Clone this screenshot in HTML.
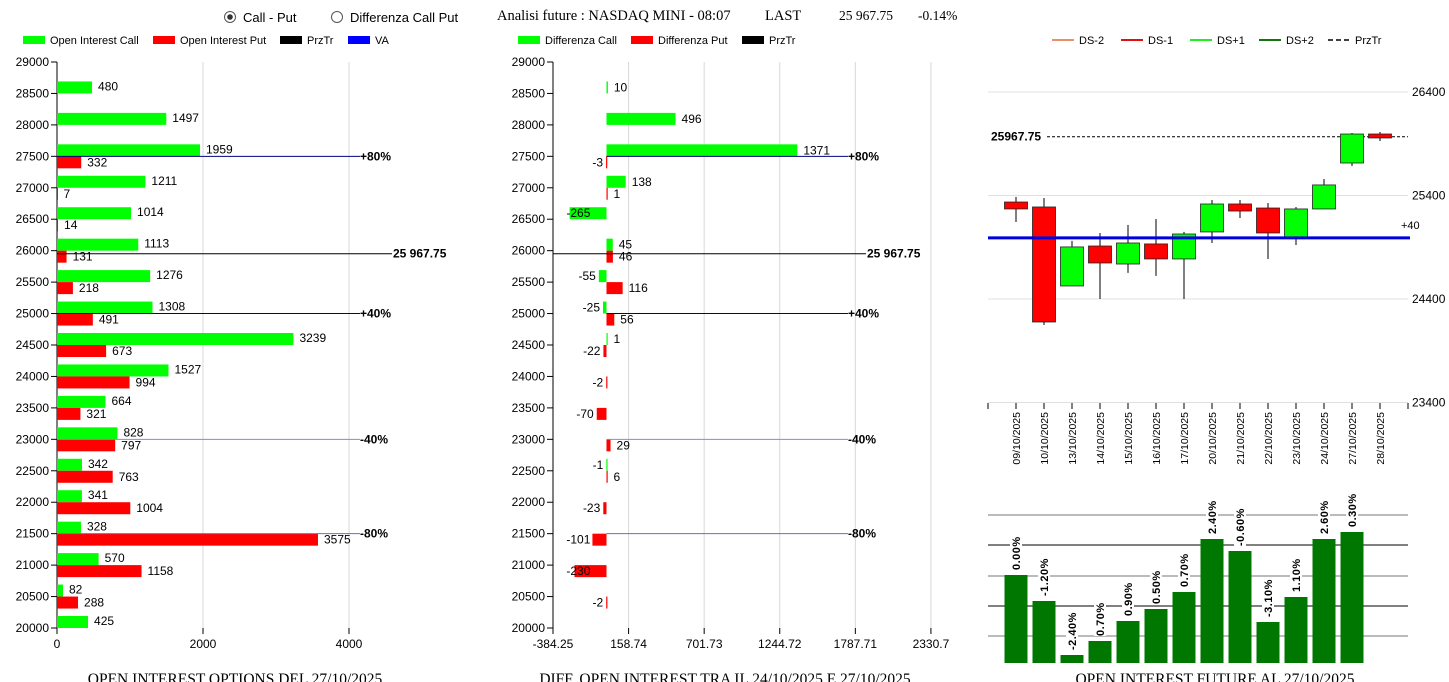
<!DOCTYPE html>
<html><head><meta charset="utf-8">
<style>
html,body{margin:0;padding:0;background:#fff;}
svg{display:block;font-family:"Liberation Sans",sans-serif;}
.serif{font-family:"Liberation Serif",serif;}
</style></head>
<body>
<svg id="root" width="1449" height="682" viewBox="0 0 1449 682" xmlns="http://www.w3.org/2000/svg">
  <g>
    <circle cx="230" cy="17" r="5.5" fill="#fff" stroke="#555"/><circle cx="230" cy="17" r="2.8" fill="#333"/>
    <text x="243" y="22" font-size="13">Call - Put</text>
  </g>
  <g>
    <circle cx="337" cy="17" r="5.5" fill="#fff" stroke="#555"/>
    <text x="350" y="22" font-size="13">Differenza Call Put</text>
  </g>
  <g class="serif" font-size="14.5">
    <text x="497" y="20">Analisi future : NASDAQ MINI - 08:07</text>
    <text x="765" y="20">LAST</text>
    <text x="839" y="20" font-size="13.5">25 967.75</text>
    <text x="918" y="20" font-size="13.5">-0.14%</text>
  </g>
  <g font-size="11">
    <rect x="23" y="36" width="22" height="8" fill="#00ff00"/><text x="50" y="44">Open Interest Call</text>
    <rect x="153" y="36" width="22" height="8" fill="#ff0000"/><text x="180" y="44">Open Interest Put</text>
    <rect x="280" y="36" width="22" height="8" fill="#000"/><text x="307" y="44">PrzTr</text>
    <rect x="348" y="36" width="22" height="8" fill="#0000ff"/><text x="375" y="44">VA</text>
  </g>
  <g font-size="11">
    <rect x="518" y="36" width="22" height="8" fill="#00ff00"/><text x="545" y="44">Differenza Call</text>
    <rect x="631" y="36" width="22" height="8" fill="#ff0000"/><text x="658" y="44">Differenza Put</text>
    <rect x="742" y="36" width="22" height="8" fill="#000"/><text x="769" y="44">PrzTr</text>
  </g>
  <g font-size="11">
    <line x1="1052" y1="40" x2="1074" y2="40" stroke="#e8906a" stroke-width="2"/><text x="1079" y="44">DS-2</text>
    <line x1="1121" y1="40" x2="1143" y2="40" stroke="#dd1111" stroke-width="2"/><text x="1148" y="44">DS-1</text>
    <line x1="1190" y1="40" x2="1212" y2="40" stroke="#22ee22" stroke-width="2"/><text x="1217" y="44">DS+1</text>
    <line x1="1259" y1="40" x2="1281" y2="40" stroke="#117711" stroke-width="2"/><text x="1286" y="44">DS+2</text>
    <line x1="1328" y1="40" x2="1350" y2="40" stroke="#000" stroke-width="1.5" stroke-dasharray="5,3"/><text x="1355" y="44">PrzTr</text>
  </g>
  <g id="gLeft"></g>
  <g id="gMid"></g>
  <g id="gCandle"></g>
  <g id="gOI"></g>
  <g class="serif" font-size="15.5" text-anchor="middle">
    <text x="235" y="684">OPEN INTEREST OPTIONS DEL 27/10/2025</text>
    <text x="725" y="684">DIFF. OPEN INTEREST TRA IL 24/10/2025 E 27/10/2025</text>
    <text x="1215" y="684">OPEN INTEREST FUTURE AL 27/10/2025</text>
  </g>
</svg>
<script>
const strikes=[28500,28000,27500,27000,26500,26000,25500,25000,24500,24000,23500,23000,22500,22000,21500,21000,20500,20000];
const oiCall=[480,1497,1959,1211,1014,1113,1276,1308,3239,1527,664,828,342,341,328,570,82,425];
const oiPut=[null,null,332,7,14,131,218,491,673,994,321,797,763,1004,3575,1158,288,null];
const diffCall=[10,496,1371,138,-265,45,-55,-25,1,null,null,null,-1,null,null,null,null,null];
const diffPut=[null,null,-3,1,null,46,116,56,-22,-2,-70,29,6,-23,-101,-230,-2,null];
const yTicks=[29000,28500,28000,27500,27000,26500,26000,25500,25000,24500,24000,23500,23000,22500,22000,21500,21000,20500,20000];
const leftXTicks=[0,2000,4000];
const midXTicks=[-384.25,158.74,701.73,1244.72,1787.71,2330.7];
const levelNames=["+80%","+40%","-40%","-80%"];
const levelPrices=[27500,25000,23000,21500];
const lastPrice=25967.75;
const dates=["09/10/2025","10/10/2025","13/10/2025","14/10/2025","15/10/2025","16/10/2025","17/10/2025","20/10/2025","21/10/2025","22/10/2025","23/10/2025","24/10/2025","27/10/2025","28/10/2025"];
const opens=[25337,25289,24526,24912,24738,24932,24787,25048,25318,25279,25000,25270,25714,25994];
const highs=[25386,25376,24961,25038,25115,25173,25048,25357,25357,25328,25289,25560,26004,26013];
const lows=[25144,24149,24526,24400,24652,24623,24400,24941,25183,24787,24922,25270,25685,25927];
const closes=[25270,24178,24903,24748,24941,24787,25028,25318,25250,25038,25270,25502,25994,25956];
const priceTicks=[26400,25400,24400,23400];
const vaPrice=24990;
const oiFut=[88,62,8,22,42,54,71,124,112,41,66,124,131];
const oiPct=["0.00%","-1.20%","-2.40%","0.70%","0.90%","0.50%","0.70%","2.40%","-0.60%","-3.10%","1.10%","2.60%","0.30%"];

const NS="http://www.w3.org/2000/svg";
function mk(parent,tag,attrs,txt){const e=document.createElementNS(NS,tag);for(const k in attrs)e.setAttribute(k,attrs[k]);if(txt!==undefined)e.textContent=txt;parent.appendChild(e);return e;}
const yS=v=>62+(29000-v)*(566/9000);
const lvlColors=["#000080","#000080","#8888dd","#6666ee"];
const FS=12;

(function(){
 const g=document.getElementById('gLeft');
 const xS=v=>57+v*0.073;
 leftXTicks.forEach(t=>{ if(t>0){const l=mk(g,'line',{x1:xS(t),y1:62,x2:xS(t),y2:628,stroke:'#d8d8d8'});
 
 }
 mk(g,'line',{x1:xS(t),y1:628,x2:xS(t),y2:634,stroke:'#000'});
 const tx=mk(g,'text',{x:xS(t),y:648,'font-size':FS,'text-anchor':'middle'},String(t));
 
 });
 mk(g,'line',{x1:57,y1:62,x2:57,y2:628,stroke:'#000'});
 yTicks.forEach(t=>{mk(g,'line',{x1:51,y1:yS(t),x2:57,y2:yS(t),stroke:'#000'});
 const tx=mk(g,'text',{x:49,y:yS(t)+4,'font-size':FS,'text-anchor':'end'},String(t));
 
 });
 strikes.forEach((s,i)=>{const y=yS(s);
  if(oiCall[i]!=null){const r=mk(g,'rect',{x:57,y:y-12,width:oiCall[i]*0.073,height:12,fill:'#00ff00'});
   
   
   mk(g,'text',{x:57+oiCall[i]*0.073+6,y:y-3,'font-size':FS},String(oiCall[i]));}
  if(oiPut[i]!=null){const r=mk(g,'rect',{x:57,y:y,width:Math.max(1,oiPut[i]*0.073),height:12,fill:'#ff0000'});
   
   
   mk(g,'text',{x:57+oiPut[i]*0.073+6,y:y+10,'font-size':FS},String(oiPut[i]));}
 });
 levelPrices.forEach((p,i)=>{const y=yS(p);mk(g,'line',{x1:57,y1:y,x2:360,y2:y,stroke:lvlColors[i]});
  const tx=mk(g,'text',{x:360,y:y+4,'font-size':FS,'font-weight':'bold'},levelNames[i]);
  
  });
 const y=yS(lastPrice)+1;mk(g,'line',{x1:57,y1:y,x2:392,y2:y,stroke:'#000'});
 mk(g,'text',{x:393,y:y+4,'font-size':FS,'font-weight':'bold'},'25 967.75');
})();

(function(){
 const g=document.getElementById('gMid');
 const x0=553,k=0.1392;const xS=v=>x0+(v-midXTicks[0])*k;
 midXTicks.forEach((t,i)=>{ if(i>0){const l=mk(g,'line',{x1:xS(t),y1:62,x2:xS(t),y2:628,stroke:'#d8d8d8'});
 
 }
 mk(g,'line',{x1:xS(t),y1:628,x2:xS(t),y2:634,stroke:'#000'});
 const tx=mk(g,'text',{x:xS(t),y:648,'font-size':FS,'text-anchor':'middle'},String(t));
 
 });
 mk(g,'line',{x1:x0,y1:62,x2:x0,y2:628,stroke:'#000'});
 yTicks.forEach(t=>{mk(g,'line',{x1:547,y1:yS(t),x2:553,y2:yS(t),stroke:'#000'});
 const tx=mk(g,'text',{x:545,y:yS(t)+4,'font-size':FS,'text-anchor':'end'},String(t));
 
 });
 const z=xS(0);
 function bar(v,y,col){const e=xS(v);const x=Math.min(z,e);const w=Math.max(1.2,Math.abs(e-z));
  const r=mk(g,'rect',{x:x,y:y,width:w,height:12,fill:col});
  
  
  const ty=y+10;
  if(v>=0) mk(g,'text',{x:Math.max(e,z+1)+6,y:ty,'font-size':FS},String(v));
  else {let rx=e-3; const est=String(v).length*6.6; if(rx-est<564) rx=564+est; mk(g,'text',{x:rx,y:ty,'font-size':FS,'text-anchor':'end'},String(v));}
 }
 strikes.forEach((s,i)=>{const y=yS(s);
  if(diffCall[i]!=null) bar(diffCall[i],y-12,'#00ff00');
  if(diffPut[i]!=null) bar(diffPut[i],y,'#ff0000');
 });
 levelPrices.forEach((p,i)=>{const y=yS(p);mk(g,'line',{x1:z,y1:y,x2:848,y2:y,stroke:lvlColors[i]});
  const tx=mk(g,'text',{x:848,y:y+4,'font-size':FS,'font-weight':'bold'},levelNames[i]);
  
  });
 const y=yS(lastPrice)+1;mk(g,'line',{x1:553,y1:y,x2:866,y2:y,stroke:'#000'});
 mk(g,'text',{x:867,y:y+4,'font-size':FS,'font-weight':'bold'},'25 967.75');
})();

(function(){
 const g=document.getElementById('gCandle');
 const pS=v=>92+(26400-v)*0.1035;
 const xS=i=>1016+i*28;
 priceTicks.forEach(t=>{const l=mk(g,'line',{x1:988,y1:pS(t),x2:1408,y2:pS(t),stroke:'#e0e0e0'});
  
  
  const tx=mk(g,'text',{x:1412,y:pS(t)+4,'font-size':FS},String(t));
  
  });
 mk(g,'line',{x1:988,y1:403,x2:988,y2:409,stroke:'#000'});
 mk(g,'line',{x1:1408,y1:403,x2:1408,y2:409,stroke:'#000'});
 const yl=pS(lastPrice);
 mk(g,'line',{x1:1047,y1:yl,x2:1408,y2:yl,stroke:'#000','stroke-dasharray':'3,2'});
 mk(g,'text',{x:991,y:yl+4,'font-size':FS,'font-weight':'bold'},'25967.75');
 dates.forEach((d,i)=>{const x=xS(i);
  mk(g,'line',{x1:x,y1:403,x2:x,y2:409,stroke:'#000'});
  const tx=mk(g,'text',{x:0,y:0,'font-size':10.5,'text-anchor':'end',transform:`translate(${x+4},412) rotate(-90)`},d);
  
  
  mk(g,'line',{x1:x,y1:pS(highs[i]),x2:x,y2:pS(lows[i]),stroke:'#000'});
  const up=closes[i]>=opens[i];const top=pS(Math.max(opens[i],closes[i])),bot=pS(Math.min(opens[i],closes[i]));
  const r=mk(g,'rect',{x:x-11.5,y:top,width:23,height:Math.max(1,bot-top),fill:up?'#00ff00':'#ff0000',stroke:'#222','stroke-width':0.8});
  
  
 });
 const yv=pS(vaPrice);
 const l=mk(g,'line',{x1:988,y1:yv,x2:1410,y2:yv,stroke:'#0000dd','stroke-width':3});
 
 
 mk(g,'text',{x:1401,y:yv-9,'font-size':11},'+40');
})();

(function(){
 const g=document.getElementById('gOI');
 const base=663;const hS=v=>v;
 [515,545,576,606,636].forEach((y,i)=>{mk(g,'line',{x1:988,y1:y,x2:1408,y2:y,stroke:i%2?'#000':'#777'});});
 oiFut.forEach((v,i)=>{const x=1016+i*28;const top=base-hS(v);
  const r=mk(g,'rect',{x:x-11.5,y:top,width:23,height:hS(v),fill:'#007700'});
  
  
  const w=oiPct[i].length*6.6;
  mk(g,'rect',{x:x-6,y:top-5-w,width:12,height:w,fill:'#fff'});
  const tx=mk(g,'text',{x:0,y:0,'font-size':11,'font-weight':'bold','text-anchor':'start',transform:`translate(${x+4},${top-5}) rotate(-90)`,'letter-spacing':'0.5'},oiPct[i]);
  
  
 });
})();
</script>
</body></html>
